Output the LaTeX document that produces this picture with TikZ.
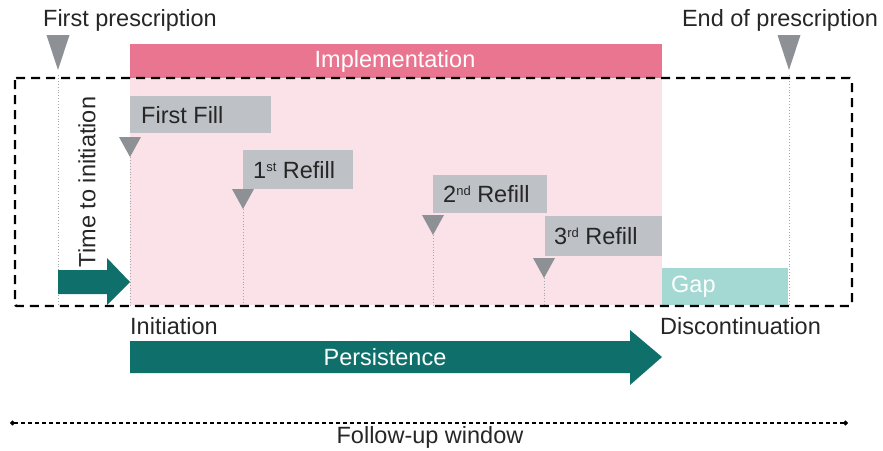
\documentclass[tikz,border=0pt]{standalone}
\usepackage{fontspec}
\setmainfont{Liberation Sans}
\usetikzlibrary{arrows.meta}
\definecolor{tealdark}{HTML}{0F6F6B}
\definecolor{pinkhead}{HTML}{EA7590}
\definecolor{pinklight}{HTML}{FBE2E8}
\definecolor{graybox}{HTML}{BEC2C7}
\definecolor{graytri}{HTML}{8D9094}
\definecolor{gapcol}{HTML}{A3D9D2}
\definecolor{txt}{HTML}{262626}
\newcommand{\lblsize}{\fontsize{23.5}{26}\selectfont}
\newcommand{\supx}[1]{\raisebox{0.55ex}{\fontsize{13}{14}\selectfont #1}}
\tikzset{
  lbl/.style={font=\lblsize, text=txt, inner sep=0pt},
  fillbox/.style={fill=graybox, draw=none, anchor=north west, inner sep=0pt},
  tri/.style={fill=graytri},
  drop/.style={draw=graytri!80, dotted, line width=0.9pt},
  frame/.style={draw=black, line width=2.4pt, dash pattern=on 9pt off 6pt, rounded corners=2pt},
}
\begin{document}
\begin{tikzpicture}[x=1pt, y=-1pt]
\useasboundingbox (0,0) rectangle (883,450);

% implementation period
\fill[pinklight] (130,78) rectangle (662,305);
\node[fill=pinkhead, minimum width=532pt, minimum height=34pt, anchor=north west, inner sep=0pt] (impl) at (130,44) {};
\node[lbl, text=white] (implt) at (395,61) {Implementation};

% fill and refill boxes
\node[fillbox, minimum width=141pt, minimum height=37pt] (fill0) at (130,96) {};
\node[lbl, anchor=west] (fill0t) at (141,115) {First Fill};
\node[fillbox, minimum width=110pt, minimum height=39pt] (fill1) at (243,150) {};
\node[lbl, anchor=west] (fill1t) at (253,170) {1\supx{st} Refill};
\node[fillbox, minimum width=114pt, minimum height=38pt] (fill2) at (433,175) {};
\node[lbl, anchor=west] (fill2t) at (443,194) {2\supx{nd} Refill};
\node[fillbox, minimum width=117pt, minimum height=40pt] (fill3) at (545,216) {};
\node[lbl, anchor=west] (fill3t) at (554,236) {3\supx{rd} Refill};

% gap
\node[fill=gapcol, minimum width=126pt, minimum height=37pt, anchor=north west, inner sep=0pt] (gap) at (662,268) {};
\node[lbl, text=white, anchor=west] (gapt) at (671,287) {Gap};

% markers: top of each drop line
\coordinate (m0) at (58,35);
\coordinate (m0b) at (58,305);
\coordinate (m5) at (789,35);
\coordinate (m5b) at (789,305);
\coordinate (r0) at (130,137);
\coordinate (r0b) at (130,305);
\coordinate (r1) at (243,189);
\coordinate (r1b) at (243,305);
\coordinate (r2) at (433,215);
\coordinate (r2b) at (433,305);
\coordinate (r3) at (544,258);
\coordinate (r3b) at (544,305);

\foreach \a in {m0,m5} {
  \fill[tri] (\a) ++(-11.5,0) -- ++(23,0) -- ++(-11.5,35) -- cycle;
  \draw[drop] (\a) ++(0,40) -- (\a b);
}
\foreach \a in {r0,r1,r2,r3} {
  \fill[tri] (\a) ++(-11,0) -- ++(22,0) -- ++(-11,20) -- cycle;
  \draw[drop] (\a) ++(0,20) -- (\a b);
}

% time to initiation arrow
\fill[tealdark] (58,270) -- (107,270) -- (107,258) -- (130,282) -- (107,305) -- (107,294) -- (58,294) -- cycle;
\node[lbl, rotate=90] (tti) at (87,182) {Time to initiation};

% observation frame
\draw[frame] (15,78) rectangle (852,306);

% top labels
\node[lbl] (fp) at (130,20) {First prescription};
\node[lbl] (ep) at (780,20) {End of prescription};

% initiation / discontinuation
\node[lbl, anchor=west] (init) at (130,326) {Initiation};
\node[lbl, anchor=west] (disc) at (660,326) {Discontinuation};

% persistence arrow
\fill[tealdark] (130,341) -- (630,341) -- (630,330) -- (662,357) -- (630,385) -- (630,373) -- (130,373) -- cycle;
\node[lbl, text=white] (pers) at (385,357) {Persistence};

% follow-up window
\coordinate (fwl) at (10,423);
\coordinate (fwr) at (848,423);
\draw[line width=1.1pt, dash pattern=on 4pt off 3pt, {Circle[length=5pt]}-{Circle[length=5pt]}] (fwl) -- (fwr);
\node[lbl] (fw) at (430,437) {Follow-up window};
\end{tikzpicture}
\end{document}
